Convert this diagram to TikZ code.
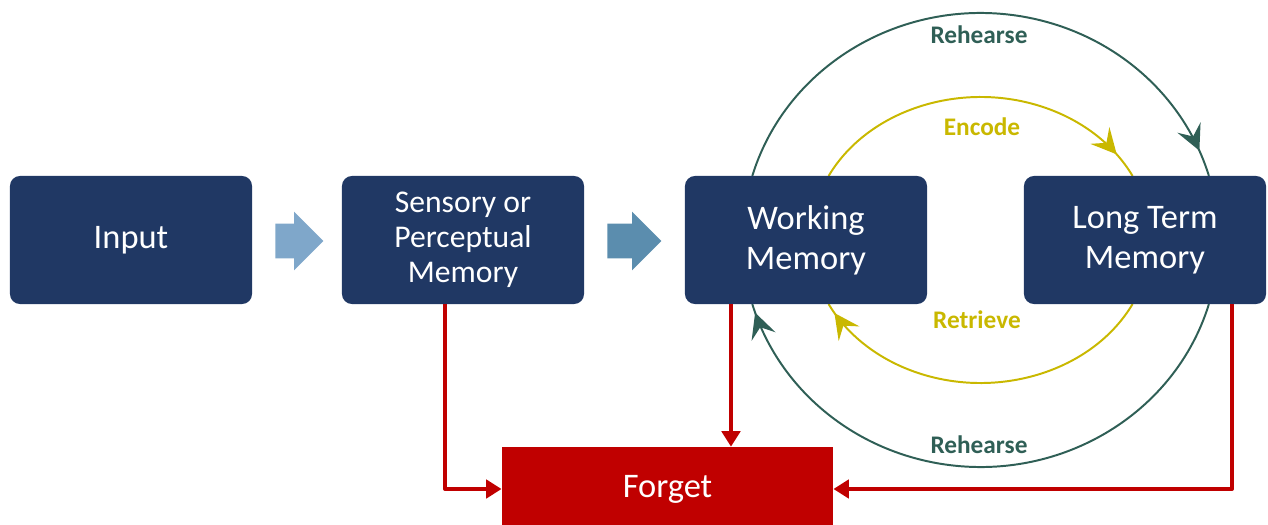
\documentclass[tikz,border=0pt]{standalone}
\usepackage{fontspec}
\setmainfont{Carlito}
\usetikzlibrary{arrows.meta,shapes.arrows,decorations.markings,calc,backgrounds}

\definecolor{navy}{HTML}{203864}
\definecolor{forgetred}{HTML}{C00000}
\definecolor{rehgreen}{HTML}{2F5F56}
\definecolor{encyellow}{HTML}{C9B800}
\definecolor{arrowpale}{HTML}{7FA7CA}
\definecolor{arrowmid}{HTML}{5B8DAE}

\begin{document}
\begin{tikzpicture}[
  x=0.025cm, y=0.025cm, line join=round,
  mem/.style={fill=navy, rounded corners=0.25cm, minimum width=6.05cm,
              minimum height=3.2cm, align=center, text=white,
              font=\fontsize{24.5}{28.5}\selectfont},
  flow/.style={single arrow, single arrow head extend=0.3cm, inner xsep=0pt,
               inner ysep=0.425cm, minimum width=1.45cm, draw=none,
               anchor=tail},
  lost/.style={draw=forgetred, line width=2.8pt,
               -{Triangle[length=11pt,width=13pt]}},
  loopline/.style={line width=1.4pt, postaction={decorate},
                   decoration={markings, mark=at position #1 with
                   {\arrow{Stealth[length=18pt,width=18pt,inset=7pt]}}}},
  looplbl/.style={font=\bfseries\fontsize{18}{20}\selectfont}
]
  \useasboundingbox (0,0) rectangle (1268,-525);
  \clip (0,0) rectangle (1268,-525);

  % ── Memory stages ──────────────────────────────────────────────────────────
  \node[mem] (in)  at (131,-240)  {Input};
  \node[mem, font=\fontsize{22.5}{25}\selectfont] (sm) at (463,-240)
      {Sensory or\\Perceptual\\Memory};
  \node[mem] (wm)  at (806,-240)  {Working\\Memory};
  \node[mem] (ltm) at (1145,-240) {Long Term\\Memory};
  \node[fill=forgetred, minimum width=8.28cm, minimum height=2.1cm,
        text=white, font=\fontsize{24.5}{28}\selectfont] (fg) at (667.5,-489)
      {Forget};

  % block arrows between the first stages
  \node[flow, fill=arrowpale, minimum height=1.2cm]  (f1) at (275,-241) {};
  \node[flow, fill=arrowmid,  minimum height=1.35cm] (f2) at (607,-241) {};

  % ── Rehearse / encode / retrieve loops ─────────────────────────────────────
  \coordinate (hub) at ($(wm.center)!0.515!(ltm.center)$);

  \begin{scope}[on background layer]
    % outer loop (rehearse)
    \draw[loopline=0.955, color=rehgreen] (hub) ++(163.6:238 and 227)
      arc[start angle=163.6, end angle=16.4, x radius=238, y radius=227];
    \draw[loopline=0.985, color=rehgreen] (hub) ++(-16.4:238 and 227)
      arc[start angle=-16.4, end angle=-163.6, x radius=238, y radius=227];
    % inner loop (encode / retrieve)
    \draw[loopline=0.925, color=encyellow] (hub) ++(153.4:170 and 143)
      arc[start angle=153.4, end angle=26.6, x radius=170, y radius=143];
    \draw[loopline=0.97, color=encyellow] (hub) ++(-26.6:170 and 143)
      arc[start angle=-26.6, end angle=-153.4, x radius=170, y radius=143];
  \end{scope}

  \node[looplbl, rehgreen]  (rh1) at (979,-35)  {Rehearse};
  \node[looplbl, encyellow] (enc) at (982,-127) {Encode};
  \node[looplbl, encyellow] (ret) at (977,-320) {Retrieve};
  \node[looplbl, rehgreen]  (rh2) at (979,-445) {Rehearse};

  % ── Paths to forgetting ────────────────────────────────────────────────────
  \draw[lost] ([xshift=-0.45cm]sm.south) |- (fg.west);
  \draw[lost] ([xshift=-1.875cm]wm.south) -- ([xshift=-1.875cm]wm.south |- fg.north);
  \draw[lost] ([xshift=2.175cm]ltm.south) |- (fg.east);

\end{tikzpicture}
\end{document}
